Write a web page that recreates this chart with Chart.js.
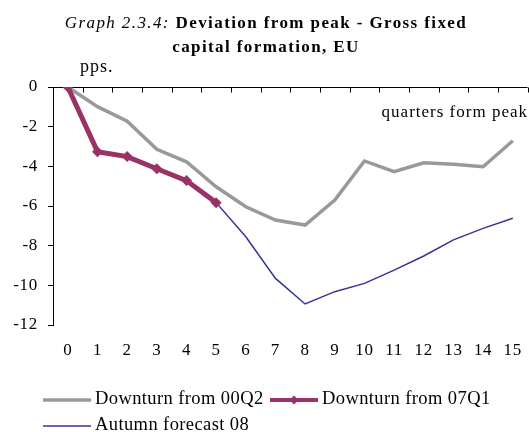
<!DOCTYPE html>
<html>
<head>
<meta charset="utf-8">
<script src="https://cdn.jsdelivr.net/npm/chart.js@4"></script>
<style>
  html, body { margin: 0; padding: 0; background: #fff; }
  #wrap { width: 529px; height: 432px; }
</style>
</head>
<body>
<div id="wrap"><canvas id="chart" width="529" height="432"></canvas></div>
<script>
// quarters from peak
const quarters = ["0", "1", "2", "3", "4", "5", "6", "7", "8", "9", "10", "11", "12", "13", "14", "15"]

// deviation from peak, pps.
const downturn00Q2 = [0, -0.99, -1.72, -3.14, -3.77, -5.03, -6.04, -6.71, -6.96, -5.70, -3.73, -4.27, -3.82, -3.90, -4.02, -2.71]
const downturn07Q1 = [0, -3.26, -3.51, -4.12, -4.72, -5.83, null, null, null, null, null, null, null, null, null, null]
const autumnForecast08 = [null, null, null, null, null, -5.83, -7.55, -9.65, -10.94, -10.32, -9.90, -9.23, -8.52, -7.71, -7.13, -6.62]

const yTicks = [0, -2, -4, -6, -8, -10, -12]

const seriesNames = ["Downturn from 00Q2", "Downturn from 07Q1", "Autumn forecast 08"]

const SERIF = "'Liberation Serif', 'Times New Roman', serif"
const GRAY = "#999999"
const PLUM = "#993366"
const NAVY = "#333399"

Chart.defaults.font.family = SERIF
Chart.defaults.font.size = 17
Chart.defaults.color = "#000"

// the original text is set a little loose
const spacingPlugin = {
  id: "spacing",
  beforeUpdate(chart) {
    chart.ctx.letterSpacing = "0.7px"
  },
  beforeDraw(chart) {
    chart.ctx.letterSpacing = "0.7px"
  },
}

// title, unit and axis note drawn as text
const textPlugin = {
  id: "texts",
  afterDraw(chart) {
    const ctx = chart.ctx
    ctx.save()
    ctx.fillStyle = "#000"
    ctx.textBaseline = "alphabetic"
    ctx.letterSpacing = "1.4px"

    const italic = "italic 17px " + SERIF
    const bold = "bold 17px " + SERIF
    const part1 = "Graph 2.3.4: "
    const part2 = "Deviation from peak - Gross fixed"
    ctx.font = italic
    const w1 = ctx.measureText(part1).width
    ctx.font = bold
    const w2 = ctx.measureText(part2).width
    const cx = 266
    let x = cx - (w1 + w2) / 2
    ctx.textAlign = "left"
    ctx.font = italic
    ctx.fillText(part1, x, 28)
    ctx.font = bold
    ctx.fillText(part2, x + w1, 28)
    ctx.textAlign = "center"
    ctx.fillText("capital formation, EU", cx, 52)

    ctx.letterSpacing = "1px"
    ctx.font = "18px " + SERIF
    ctx.textAlign = "left"
    ctx.fillText("pps.", 80, 72)
    ctx.font = "17px " + SERIF
    ctx.textAlign = "right"
    ctx.fillText("quarters form peak", 528, 117)
    ctx.restore()
  },
}

// x axis line sits on zero, ticks pointing down at category edges
const zeroAxisPlugin = {
  id: "zeroAxis",
  beforeDatasetsDraw(chart) {
    const { ctx, chartArea, scales } = chart
    const y = Math.round(scales.y.getPixelForValue(0)) + 0.5
    const step = scales.x.getPixelForValue(1) - scales.x.getPixelForValue(0)
    ctx.save()
    ctx.strokeStyle = "#000"
    ctx.lineWidth = 1
    ctx.beginPath()
    ctx.moveTo(chartArea.left, y)
    ctx.lineTo(chartArea.right, y)
    for (let i = 0; i <= quarters.length; i++) {
      const x = Math.round(scales.x.getPixelForValue(i) - step / 2) + 0.5
      ctx.moveTo(x, y)
      ctx.lineTo(x, y + 5)
    }
    ctx.stroke()
    ctx.restore()
  },
}

// legend laid out like the original: two items, then one
const legendPlugin = {
  id: "customLegend",
  afterDraw(chart) {
    const ctx = chart.ctx
    const items = [
      { ds: 0, x: 43, y: 400 },
      { ds: 1, x: 270, y: 400 },
      { ds: 2, x: 43, y: 426 },
    ]
    ctx.save()
    ctx.font = "18.5px " + SERIF
    ctx.letterSpacing = "0.4px"
    ctx.textBaseline = "alphabetic"
    ctx.textAlign = "left"
    items.forEach((it) => {
      const ds = chart.data.datasets[it.ds]
      ctx.strokeStyle = ds.borderColor
      ctx.lineWidth = Math.min(ds.borderWidth, 4)
      ctx.beginPath()
      ctx.moveTo(it.x, it.y)
      ctx.lineTo(it.x + 48, it.y)
      ctx.stroke()
      if (ds.pointRadius > 0) {
        const r = 4.5
        const mx = it.x + 24
        ctx.fillStyle = ds.pointBackgroundColor
        ctx.beginPath()
        ctx.moveTo(mx, it.y - r)
        ctx.lineTo(mx + r, it.y)
        ctx.lineTo(mx, it.y + r)
        ctx.lineTo(mx - r, it.y)
        ctx.closePath()
        ctx.fill()
      }
      ctx.fillStyle = "#000"
      ctx.fillText(seriesNames[it.ds], it.x + 52, it.y + 4)
    })
    ctx.restore()
  },
}

const ctx = document.getElementById("chart").getContext("2d")
const chart = new Chart(ctx, {
  type: "line",
  data: {
    labels: quarters,
    datasets: [
      {
        label: seriesNames[0],
        data: downturn00Q2,
        borderColor: GRAY,
        borderWidth: 3.5,
        pointRadius: 0,
        tension: 0,
        order: 2,
      },
      {
        label: seriesNames[1],
        data: downturn07Q1,
        borderColor: PLUM,
        backgroundColor: PLUM,
        pointBackgroundColor: PLUM,
        pointBorderColor: PLUM,
        borderWidth: 5,
        pointStyle: "rectRot",
        pointRadius: 5.5,
        pointBorderWidth: 0,
        tension: 0,
        order: 0,
      },
      {
        label: seriesNames[2],
        data: autumnForecast08,
        borderColor: NAVY,
        borderWidth: 1.5,
        pointRadius: 0,
        tension: 0,
        order: 1,
      },
    ],
  },
  options: {
    responsive: false,
    animation: false,
    events: [],
    layout: {
      autoPadding: false,
      padding: { top: 87, right: 1, bottom: 67, left: 0 },
    },
    plugins: {
      legend: { display: false },
      tooltip: { enabled: false },
      title: { display: false },
    },
    scales: {
      x: {
        type: "category",
        offset: true,
        grid: { display: false },
        border: { display: false },
        ticks: { padding: 7, maxRotation: 0, autoSkip: false },
        afterFit(scale) {
          scale.height = 40
        },
      },
      y: {
        min: -12,
        max: 0,
        afterFit(scale) {
          scale.width = 53
        },
        afterBuildTicks(scale) {
          scale.ticks = yTicks.map((v) => ({ value: v }))
        },
        grid: {
          drawOnChartArea: false,
          tickLength: 5,
          color: "#000",
        },
        border: { color: "#000", width: 1 },
        ticks: { padding: 10 },
      },
    },
  },
  plugins: [spacingPlugin, textPlugin, zeroAxisPlugin, legendPlugin],
})
</script>
</body>
</html>
